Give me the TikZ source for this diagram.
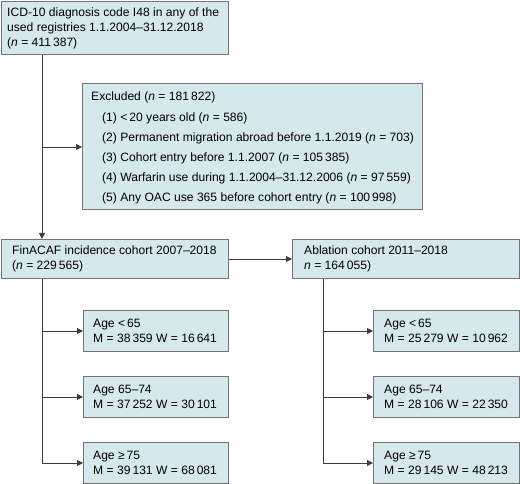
\documentclass[tikz,border=0pt]{standalone}
\usepackage{fontspec}
\setmainfont{Liberation Sans}
\usetikzlibrary{arrows.meta}
\definecolor{boxfill}{RGB}{213,232,235}
\definecolor{boxline}{RGB}{115,115,115}
\definecolor{connc}{RGB}{60,60,60}
\begin{document}
\begin{tikzpicture}[x=1pt,y=-1pt,
  box/.style={draw=boxline, line width=1pt, fill=boxfill, anchor=north west, inner sep=0pt},
  txt/.style={anchor=west, align=left, inner sep=0pt, font=\fontsize{12.1}{15}\selectfont},
  conn/.style={draw=connc, line width=0.9pt},
  arr/.style={conn, -{Triangle[length=6pt,width=6pt]}}]
\useasboundingbox (0,0) rectangle (520,484);
% boxes
\node[box, minimum width=227pt, minimum height=53pt] (top) at (1,1) {};
\node[box, minimum width=340pt, minimum height=126pt] (exc) at (82,83) {};
\node[box, minimum width=227pt, minimum height=39pt] (fin) at (1,239) {};
\node[box, minimum width=227pt, minimum height=39pt] (abl) at (292,239) {};
\node[box, minimum width=145pt, minimum height=41pt] (l1) at (83,310) {};
\node[box, minimum width=145pt, minimum height=41pt] (l2) at (83,376) {};
\node[box, minimum width=145pt, minimum height=41pt] (l3) at (83,442) {};
\node[box, minimum width=146pt, minimum height=41pt] (r1) at (373,310) {};
\node[box, minimum width=146pt, minimum height=41pt] (r2) at (373,376) {};
\node[box, minimum width=146pt, minimum height=41pt] (r3) at (373,442) {};
% texts
\node[txt] (ttop) at ([xshift=6pt]top.west) {ICD-10 diagnosis code I48 in any of the\\used registries 1.1.2004–31.12.2018\\(\textit{n} = 411\,387)};
\node[txt] (texc) at ([xshift=9pt,yshift=-1.5pt]exc.west) {Excluded (\textit{n} = 181\,822)\\[6pt]
\hspace*{11pt}(1) <\,20 years old (\textit{n} = 586)\\[5pt]
\hspace*{11pt}(2) Permanent migration abroad before 1.1.2019 (\textit{n} = 703)\\[5pt]
\hspace*{11pt}(3) Cohort entry before 1.1.2007 (\textit{n} = 105\,385)\\[5pt]
\hspace*{11pt}(4) Warfarin use during 1.1.2004–31.12.2006 (\textit{n} = 97\,559)\\[5pt]
\hspace*{11pt}(5) Any OAC use 365 before cohort entry (\textit{n} = 100\,998)};
\node[txt] (tfin) at ([xshift=11pt]fin.west) {FinACAF incidence cohort 2007–2018\\(\textit{n} = 229\,565)};
\node[txt] (tabl) at ([xshift=12pt]abl.west) {Ablation cohort 2011–2018\\\textit{n} = 164\,055)};
\node[txt] (tl1) at ([xshift=10pt]l1.west) {Age <\,65\\M = 38\,359 W = 16\,641};
\node[txt] (tl2) at ([xshift=10pt]l2.west) {Age 65–74\\M = 37\,252 W = 30\,101};
\node[txt] (tl3) at ([xshift=10pt]l3.west) {Age ≥\,75\\M = 39\,131 W = 68\,081};
\node[txt] (tr1) at ([xshift=11pt]r1.west) {Age <\,65\\M = 25\,279 W = 10\,962};
\node[txt] (tr2) at ([xshift=11pt]r2.west) {Age 65–74\\M = 28\,106 W = 22\,350};
\node[txt] (tr3) at ([xshift=11pt]r3.west) {Age ≥\,75\\M = 29\,145 W = 48\,213};
% connectors
\coordinate (vx) at (42,0);
\coordinate (wx) at (323,0);
\coordinate (b0) at (42,147);
\draw[arr] (top.south -| vx) -- (fin.north -| vx);
\draw[arr] (b0) -- (b0 -| exc.west);
\draw[arr] (fin.east) -- (abl.west);
\draw[conn] (fin.south -| vx) -- (vx |- l3.west);
\draw[arr] (vx |- l1.west) -- (l1.west);
\draw[arr] (vx |- l2.west) -- (l2.west);
\draw[arr] (vx |- l3.west) -- (l3.west);
\draw[conn] (abl.south -| wx) -- (wx |- r3.west);
\draw[arr] (wx |- r1.west) -- (r1.west);
\draw[arr] (wx |- r2.west) -- (r2.west);
\draw[arr] (wx |- r3.west) -- (r3.west);
\end{tikzpicture}
\end{document}
